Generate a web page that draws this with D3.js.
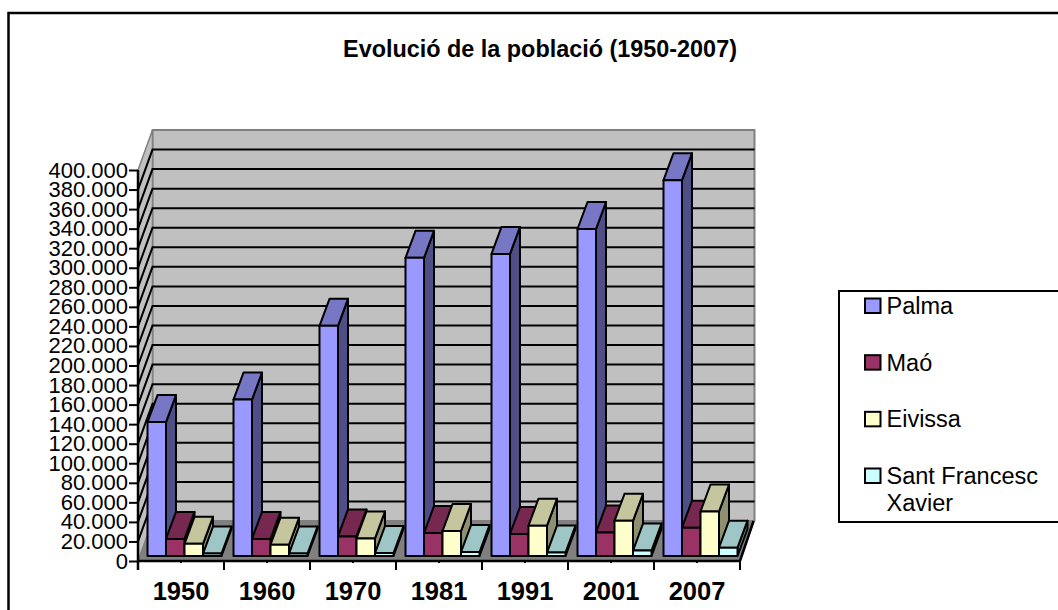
<!DOCTYPE html>
<html>
<head>
<meta charset="utf-8">
<script src="https://cdn.jsdelivr.net/npm/d3@7"></script>
<style>
html, body { margin: 0; padding: 0; background: #fff; overflow: hidden; }
text { font-family: "Liberation Sans", Arial, sans-serif; fill: #000; }
</style>
</head>
<body>
<script>
var years = ["1950", "1960", "1970", "1981", "1991", "2001", "2007"];
var seriesNames = ["Palma", "Maó", "Eivissa", "Sant Francesc Xavier"];
var palma = [137000, 160000, 235500, 305000, 309000, 334500, 384500];
var mao = [17500, 17500, 20000, 23500, 22500, 24000, 29000];
var eivissa = [12500, 11500, 18000, 25500, 31000, 36000, 45500];
var santFrancesc = [2500, 2500, 3000, 4000, 3500, 5500, 8500];
var allSeries = [palma, mao, eivissa, santFrancesc];
var yTicks = d3.range(0, 400001, 20000);

var frontColors = ["#9999ff", "#993366", "#ffffcc", "#ccffff"];
var topColors = ["#7777c6", "#772850", "#c6c69e", "#9ec6c6"];
var sideColors = ["#4f4f85", "#551c39", "#8f8f72", "#708f8f"];

var svgWidth = 1058;
var svgHeight = 610;

// plot box, front plane of the 3d chart
var x0 = 138, x1 = 740, yBase = 561, yTop = 170;
var depthX = 14.5, depthY = -40;

var svg = d3.select("body")
    .append("svg")
    .attr("width", svgWidth)
    .attr("height", svgHeight);

var x = d3.scaleBand().domain(years).range([x0, x1]);
var inner = d3.scaleBand().domain(d3.range(4)).range([6, x.step() - 6]);
var y = d3.scaleLinear().domain([0, 400000]).range([yBase, yTop]);

var line2 = d3.line();

function poly(points, fill, stroke, sw) {
    return svg.append("path")
        .attr("d", line2(points) + "Z")
        .attr("fill", fill)
        .attr("stroke", stroke)
        .attr("stroke-width", sw)
        .attr("stroke-linejoin", "round");
}

// outer chart border, runs off the picture on the right and at the bottom
svg.append("path")
    .attr("d", "M8.5," + (svgHeight + 5) + "V13H" + (svgWidth + 5))
    .attr("fill", "none")
    .attr("stroke", "#000")
    .attr("stroke-width", 2.5);

svg.append("text")
    .attr("x", 540)
    .attr("y", 57)
    .attr("text-anchor", "middle")
    .attr("font-size", "23.4px")
    .attr("font-weight", "bold")
    .text("Evolució de la població (1950-2007)");

// back wall, side wall, floor
poly([[x0 + depthX, y(400000) + depthY], [x1 + depthX, y(400000) + depthY], [x1 + depthX, yBase + depthY], [x0 + depthX, yBase + depthY]], "#c0c0c0", "#808080", 2);
poly([[x0, yTop], [x0 + depthX, yTop + depthY], [x0 + depthX, yBase + depthY], [x0, yBase]], "#c0c0c0", "#808080", 1.5);
poly([[x0, yBase], [x0 + depthX, yBase + depthY], [x1 + depthX, yBase + depthY], [x1, yBase]], "#808080", "#808080", 1);

// gridlines on the two walls
yTicks.slice(1, -1).forEach(function (d) {
    svg.append("path")
        .attr("d", line2([[x0, y(d)], [x0 + depthX, y(d) + depthY], [x1 + depthX, y(d) + depthY]]))
        .attr("fill", "none")
        .attr("stroke", "#000")
        .attr("stroke-width", 2);
});

// right edge of floor and front axis lines
svg.append("path")
    .attr("d", line2([[x1 + depthX - 1, yBase + depthY], [x1, yBase], [x0, yBase]]))
    .attr("fill", "none")
    .attr("stroke", "#000")
    .attr("stroke-width", 2.5);

// bars, left to right so each one overlaps the side of the previous one
var d0x = 3.5, d0y = -5, dBarX = 10, dBarY = -27;
years.forEach(function (year, i) {
    allSeries.forEach(function (values, s) {
        var left = x(year) + inner(s) + d0x;
        var right = left + inner.bandwidth();
        var bottom = y(0) + d0y;
        var top = y(values[i]) + d0y;
        poly([[right, top], [right + dBarX, top + dBarY], [right + dBarX, bottom + dBarY], [right, bottom]], sideColors[s], "#000", 2);
        poly([[left, top], [left + dBarX, top + dBarY], [right + dBarX, top + dBarY], [right, top]], topColors[s], "#000", 2);
        poly([[left, top], [right, top], [right, bottom], [left, bottom]], frontColors[s], "#000", 2);
    });
});

// value axis
var numFormat = d3.formatLocale({ decimal: ",", thousands: ".", grouping: [3], currency: ["", ""] }).format(",");
var yAxis = d3.axisLeft(y)
    .tickValues(yTicks)
    .tickFormat(numFormat)
    .tickSize(9)
    .tickPadding(1);
var yAxisG = svg.append("g")
    .attr("transform", "translate(" + x0 + ",0)")
    .call(yAxis);
yAxisG.select(".domain")
    .attr("stroke", "#000")
    .attr("stroke-width", 2.5)
    .attr("d", "M0," + yTop + "V" + (yBase + 9));
yAxisG.selectAll(".tick line").attr("stroke-width", 2);
yAxisG.selectAll("text")
    .attr("font-family", "'Liberation Sans', Arial, sans-serif")
    .attr("font-size", "22px");

// category axis, long ticks fall between the groups
var xAxis = d3.axisBottom(x)
    .tickSize(2)
    .tickPadding(19);
var xAxisG = svg.append("g")
    .attr("transform", "translate(0," + yBase + ")")
    .call(xAxis);
xAxisG.select(".domain").remove();
xAxisG.selectAll(".tick line").attr("stroke-width", 2);
xAxisG.selectAll("text")
    .attr("font-family", "'Liberation Sans', Arial, sans-serif")
    .attr("font-size", "25.5px")
    .attr("font-weight", "bold");

svg.selectAll(".bound")
    .data(years)
    .enter()
    .append("line")
    .attr("class", "bound")
    .attr("x1", function (d) { return x(d) + x.step(); })
    .attr("x2", function (d) { return x(d) + x.step(); })
    .attr("y1", yBase)
    .attr("y2", yBase + 9)
    .attr("stroke", "#000")
    .attr("stroke-width", 2);

// legend box, clipped by the right side of the picture
svg.append("rect")
    .attr("x", 839)
    .attr("y", 291)
    .attr("width", 240)
    .attr("height", 231)
    .attr("fill", "#fff")
    .attr("stroke", "#000")
    .attr("stroke-width", 2);

var legendY = d3.scalePoint().domain(seriesNames).range([306, 476]);
var legend = svg.selectAll(".legend")
    .data(seriesNames)
    .enter()
    .append("g")
    .attr("class", "legend")
    .attr("transform", function (d) { return "translate(0," + legendY(d) + ")"; });

legend.append("rect")
    .attr("x", 865)
    .attr("y", -7.5)
    .attr("width", 15.5)
    .attr("height", 14.5)
    .attr("fill", function (d, i) { return frontColors[i]; })
    .attr("stroke", "#000")
    .attr("stroke-width", 2);

legend.append("text")
    .attr("x", 886.5)
    .attr("y", 8)
    .attr("font-size", "23.5px")
    .each(function (d) {
        var words = d.split(" ");
        var el = d3.select(this);
        if (words.length > 2) {
            el.append("tspan").text(words.slice(0, 2).join(" "));
            el.append("tspan").attr("x", 886.5).attr("dy", 27).text(words.slice(2).join(" "));
        } else {
            el.text(d);
        }
    });
</script>
</body>
</html>
